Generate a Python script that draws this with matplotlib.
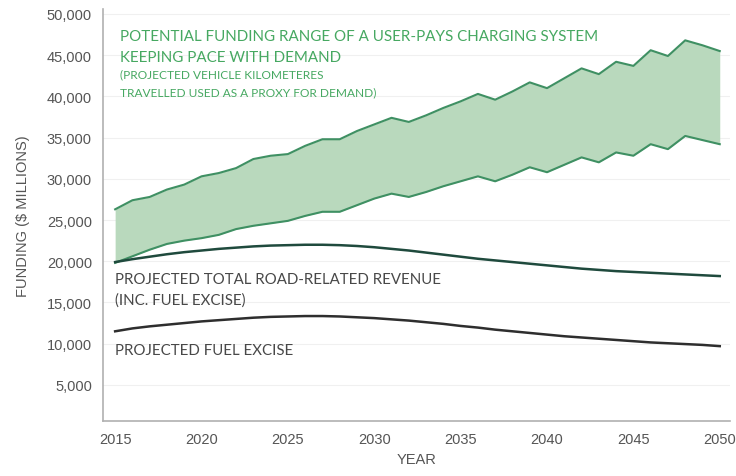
import matplotlib

matplotlib.use("Agg")
import matplotlib.pyplot as plt

years = list(range(2015, 2051))

# user-pays charging range (upper / lower bound), $ millions
range_high = [26300, 27400, 27800, 28700, 29300, 30300, 30700, 31300, 32400, 32800,
              33000, 34000, 34800, 34800, 35800, 36600, 37400, 36900, 37700, 38600,
              39400, 40300, 39600, 40600, 41700, 41000, 42200, 43400, 42700, 44200,
              43700, 45600, 44900, 46800, 46200, 45500]
range_low = [19800, 20600, 21400, 22100, 22500, 22800, 23200, 23900, 24300, 24600,
             24900, 25500, 26000, 26000, 26800, 27600, 28200, 27800, 28400, 29100,
             29700, 30300, 29700, 30500, 31400, 30800, 31700, 32600, 32000, 33200,
             32800, 34200, 33600, 35200, 34700, 34200]
road_revenue = [19900, 20250, 20550, 20850, 21100, 21300, 21500, 21650, 21800, 21900,
                21950, 22000, 22000, 21950, 21850, 21700, 21500, 21300, 21050, 20800,
                20550, 20300, 20100, 19900, 19700, 19500, 19300, 19100, 18950, 18800,
                18700, 18600, 18500, 18400, 18300, 18200]
fuel_excise = [11500, 11850, 12100, 12300, 12500, 12700, 12850, 13000, 13150, 13250,
               13300, 13350, 13350, 13300, 13200, 13100, 12950, 12800, 12600, 12400,
               12150, 11950, 11700, 11500, 11300, 11100, 10900, 10750, 10600, 10450,
               10300, 10150, 10050, 9950, 9850, 9700]

x_ticks = [2015, 2020, 2025, 2030, 2035, 2040, 2045, 2050]
y_ticks = [5000, 10000, 15000, 20000, 25000, 30000, 35000, 40000, 45000, 50000]

GREEN_FILL = "#b9d9bd"
GREEN_EDGE = "#3f9063"
GREEN_TEXT = "#46a861"
ROAD_LINE = "#1f4a3d"
FUEL_LINE = "#2e2e2e"
GREY_TEXT = "#484848"

plt.rcParams["font.family"] = ["Lato", "DejaVu Sans"]

fig = plt.figure(figsize=(7.36, 4.77), dpi=100)
ax = fig.add_axes([0.14, 0.115, 0.852, 0.864])

ax.fill_between(years, range_low, range_high, color=GREEN_FILL, linewidth=0)
ax.plot(years, range_high, color=GREEN_EDGE, lw=1.5)
ax.plot(years, range_low, color=GREEN_EDGE, lw=1.5)
ax.plot(years, road_revenue, color=ROAD_LINE, lw=1.8)
ax.plot(years, fuel_excise, color=FUEL_LINE, lw=1.8)

ax.set_xlim(2014.3, 2050.6)
ax.set_ylim(600, 50600)
ax.set_xticks(x_ticks)
ax.set_yticks(y_ticks)
ax.set_yticklabels([f"{v:,}" for v in y_ticks])
ax.tick_params(length=0, labelsize=10.5, colors="#555555",
               labelfontfamily="Liberation Sans", pad=8)
ax.grid(axis="y", color="#f0f0f0", lw=0.8)
ax.set_axisbelow(True)
for side in ("top", "right"):
    ax.spines[side].set_visible(False)
for side in ("left", "bottom"):
    ax.spines[side].set_color("#b0b0b0")
    ax.spines[side].set_linewidth(1.2)

ax.set_ylabel("FUNDING ($ MILLIONS)", fontsize=10.5, color="#555555",
              family="Liberation Sans", labelpad=12)
ax.set_xlabel("YEAR", fontsize=10.5, color="#555555",
              family="Liberation Sans", labelpad=4)

# band annotation
ax.text(2015.3, 47300, "POTENTIAL FUNDING RANGE OF A USER-PAYS CHARGING SYSTEM",
        color=GREEN_TEXT, fontsize=10.9, va="center")
ax.text(2015.3, 44800, "KEEPING PACE WITH DEMAND",
        color=GREEN_TEXT, fontsize=10.9, va="center")
ax.text(2015.3, 42700, "(PROJECTED VEHICLE KILOMETERES",
        color=GREEN_TEXT, fontsize=8.6, va="center")
ax.text(2015.3, 40600, "TRAVELLED USED AS A PROXY FOR DEMAND)",
        color=GREEN_TEXT, fontsize=8.6, va="center")

# revenue line annotations
ax.text(2015.0, 17850, "PROJECTED TOTAL ROAD-RELATED REVENUE",
        color=GREY_TEXT, fontsize=10.8, va="center")
ax.text(2015.0, 15400, "(INC. FUEL EXCISE)",
        color=GREY_TEXT, fontsize=10.8, va="center")
ax.text(2015.0, 9200, "PROJECTED FUEL EXCISE",
        color=GREY_TEXT, fontsize=10.8, va="center")

fig.savefig("out.png", dpi=100)
